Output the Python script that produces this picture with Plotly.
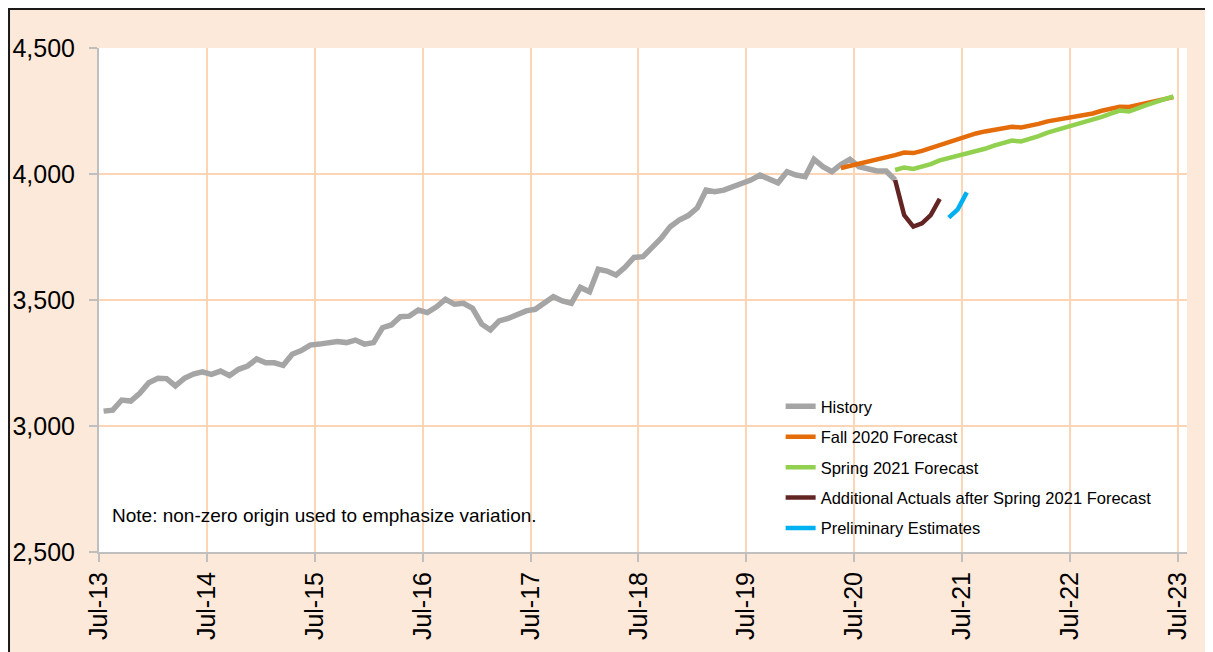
import pandas as pd
import plotly.graph_objects as go

# ---- data (monthly values) ----
history_start = "2013-07"
history = [3059, 3063, 3103, 3099, 3130, 3172, 3189, 3188, 3159, 3189, 3206, 3215,
           3205, 3218, 3200, 3225, 3238, 3266, 3251, 3251, 3241, 3285, 3299, 3321,
           3325, 3328, 3335, 3331, 3341, 3325, 3331, 3390, 3401, 3434, 3436, 3460,
           3450, 3473, 3503, 3483, 3487, 3467, 3404, 3381, 3417, 3427, 3444, 3457,
           3463, 3487, 3513, 3496, 3487, 3550, 3533, 3622, 3615, 3599, 3630, 3669,
           3672, 3709, 3745, 3791, 3817, 3835, 3866, 3936, 3930, 3936, 3950, 3960,
           3976, 3996, 3979, 3965, 4009, 3996, 3989, 4058, 4029, 4009, 4038, 4058,
           4029, 4018, 4012, 4012, 3976]

fall_start = "2020-05"
fall_2020 = [4024, 4032, 4040, 4049, 4058, 4066, 4075, 4085, 4083, 4092, 4103, 4116,
             4129, 4140, 4150, 4161, 4169, 4175, 4182, 4187, 4185, 4191, 4199, 4209,
             4215, 4222, 4227, 4234, 4240, 4251, 4259, 4267, 4266, 4274, 4282, 4291,
             4299, 4305]

spring_start = "2020-11"
spring_2021 = [4016, 4026, 4020, 4030, 4039, 4054, 4063, 4072, 4082, 4092, 4100, 4113,
               4125, 4133, 4129, 4138, 4150, 4164, 4174, 4185, 4194, 4205, 4217, 4227,
               4240, 4252, 4248, 4262, 4273, 4285, 4296, 4308]

actuals_start = "2020-11"
additional_actuals = [3976, 3837, 3791, 3804, 3837, 3901]

prelim_start = "2021-05"
preliminary = [3827, 3860, 3927]

series = [
    ("History", history_start, history, "#A5A5A5", 5.5),
    ("Fall 2020 Forecast", fall_start, fall_2020, "#E46C0A", 4.5),
    ("Spring 2021 Forecast", spring_start, spring_2021, "#92D050", 4.5),
    ("Additional Actuals after Spring 2021 Forecast", actuals_start, additional_actuals, "#632523", 4.5),
    ("Preliminary Estimates", prelim_start, preliminary, "#00B0F0", 4.5),
]

note_text = "Note: non-zero origin used to emphasize variation."
y_ticks = [2500, 3000, 3500, 4000, 4500]

FONT = "Liberation Sans, Arial, sans-serif"
GRID = "#FCD5B4"
AXIS = "#BFBFBF"
PAPER = "#FDE9D9"

fig = go.Figure()
for i, (name, start, vals, color, width) in enumerate(series):
    x = pd.date_range(start=start, periods=len(vals), freq="MS")
    fig.add_trace(go.Scatter(
        x=x, y=vals, name=name, mode="lines",
        xperiod="M1", xperiodalignment="middle",
        line=dict(color=color, width=width),
        legendgroup=f"g{i}",
    ))

fig.update_layout(
    width=1213, height=652,
    margin=dict(l=91, r=34, t=40, b=108, pad=0, autoexpand=False),
    paper_bgcolor=PAPER, plot_bgcolor="white",
    font=dict(family=FONT, color="black"),
    showlegend=True,
    legend=dict(
        x=0.6265, y=0.3234, xanchor="left", yanchor="top",
        bgcolor="rgba(255,255,255,0)", borderwidth=0,
        font=dict(size=16.5, family=FONT, color="black"),
        tracegroupgap=6, traceorder="grouped",
    ),
    xaxis=dict(
        type="date", automargin=False,
        range=["2013-07-01", "2023-08-01"],
        tick0="2013-07-01", dtick="M12", tickformat="%b-%y",
        tickangle=-90,
        showgrid=True, gridcolor=GRID, gridwidth=2,
        showline=True, linecolor=AXIS, linewidth=2,
        ticks="outside", ticklen=8, tickwidth=2, tickcolor=AXIS,
        tickfont=dict(size=25, family=FONT, color="black"),
        zeroline=False,
    ),
    yaxis=dict(
        range=[2500, 4500], automargin=False,
        tickvals=y_ticks, tickformat=",",
        showgrid=True, gridcolor=GRID, gridwidth=2,
        showline=True, linecolor=AXIS, linewidth=2,
        ticks="outside", ticklen=8, tickwidth=2, tickcolor=AXIS,
        tickfont=dict(size=25, family=FONT, color="black"),
        ticklabelstandoff=9,
        zeroline=False,
    ),
    annotations=[dict(
        text=note_text, xref="paper", yref="paper",
        x=0.010, y=0.0734, xanchor="left", yanchor="middle",
        showarrow=False, font=dict(size=19, family=FONT, color="black"),
    )],
    shapes=[
        dict(type="rect", xref="paper", yref="paper",
             x0=0.608, x1=0.985, y0=0.014, y1=0.322,
             fillcolor="white", line=dict(width=0), layer="between"),
        dict(type="rect", xref="paper", yref="paper",
             x0=-0.0827, x1=1.5, y0=-0.5, y1=1.0774,
             line=dict(color="#1a1a1a", width=2), layer="above"),
    ],
)

fig.write_html("out.html")
